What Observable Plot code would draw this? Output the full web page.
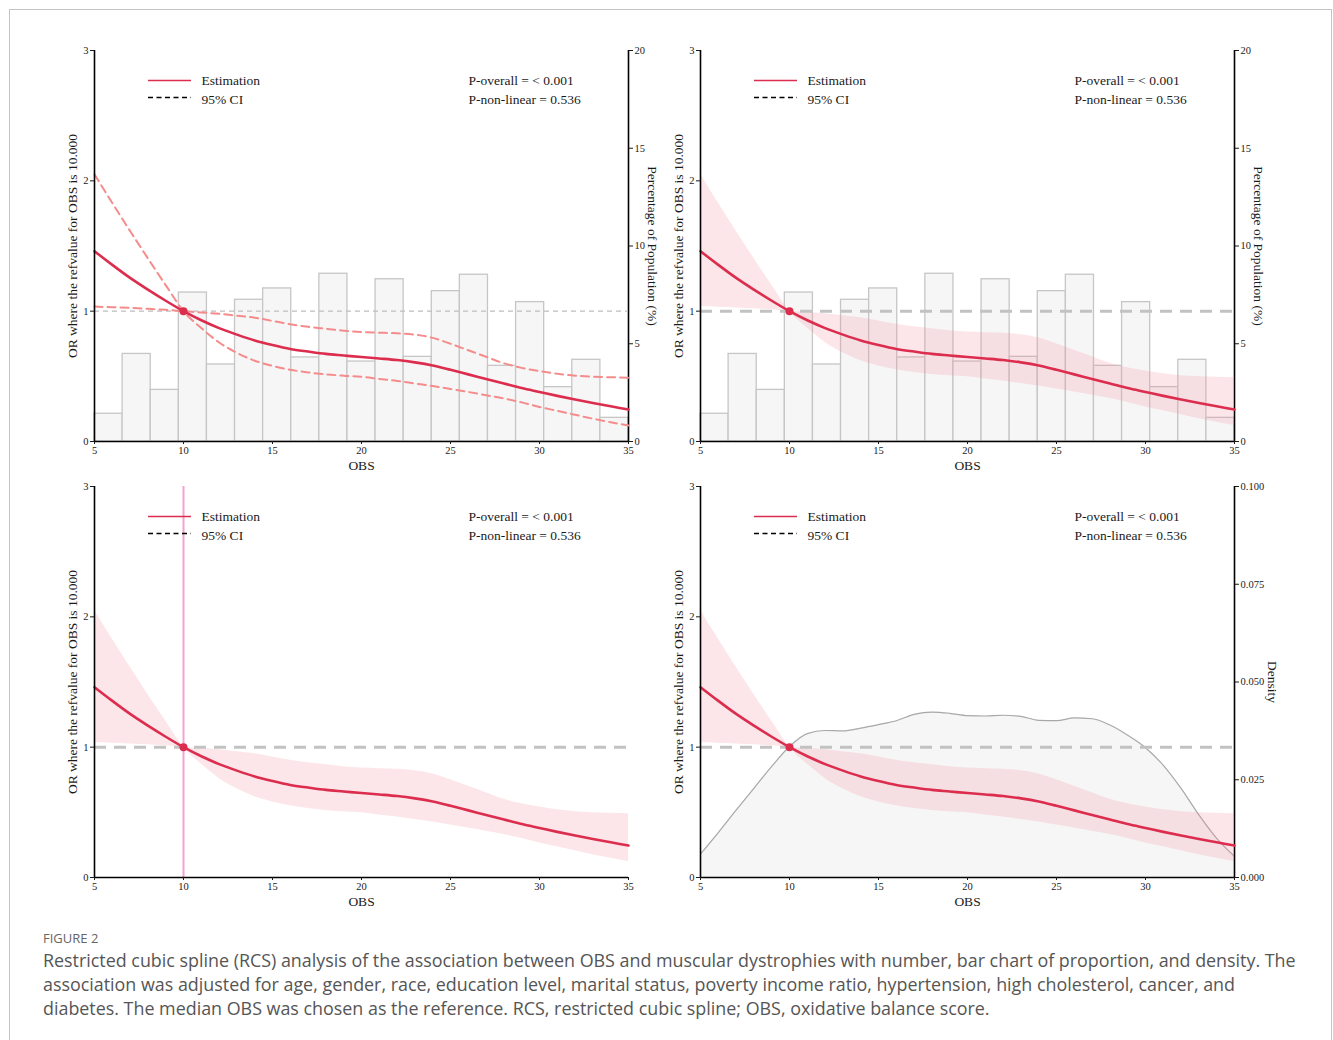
<!DOCTYPE html>
<html><head><meta charset="utf-8">
<script src="https://cdn.jsdelivr.net/npm/d3@7"></script>
<script src="https://cdn.jsdelivr.net/npm/@observablehq/plot@0.6"></script>
<style>
body{margin:0;background:#fff;width:1333px;height:1040px;overflow:hidden;position:relative;}
#frame{position:absolute;left:9px;top:9px;width:1323px;height:1100px;border:1px solid #c4c4c4;box-sizing:border-box;}
.layer{position:absolute;}
#fig{position:absolute;left:43px;top:929px;font-family:"Open Sans";font-size:13px;color:#666;line-height:18px;}
#cap{position:absolute;left:43px;top:948px;font-family:"Open Sans";font-size:17px;color:#555;line-height:24px;}
#cap span{display:block;white-space:nowrap;width:max-content;}
</style></head><body>
<div id="frame"></div>
<div id="charts"></div>
<div id="fig">FIGURE 2</div>
<div id="cap"><span>Restricted cubic spline (RCS) analysis of the association between OBS and muscular dystrophies with number, bar chart of proportion, and density. The</span><span>association was adjusted for age, gender, race, education level, marital status, poverty income ratio, hypertension, high cholesterol, cancer, and</span><span>diabetes. The median OBS was chosen as the reference. RCS, restricted cubic spline; OBS, oxidative balance score.</span></div>
<script>
// ---------- data ----------
const obs = [5,6,7,8,9,10,11,12,13,14,15,16,17,18,19,20,21,22,23,24,25,26,27,28,29,30,31,32,33,34,35];
const estimate = [1.46,1.355,1.255,1.165,1.08,1.00,0.93,0.87,0.82,0.775,0.74,0.71,0.69,0.672,0.66,0.648,0.637,0.625,0.607,0.583,0.55,0.515,0.48,0.445,0.41,0.38,0.35,0.322,0.295,0.27,0.245];
const ciSteep = [2.05,1.83,1.615,1.405,1.20,1.00,0.87,0.76,0.68,0.62,0.58,0.55,0.53,0.515,0.505,0.497,0.48,0.465,0.445,0.425,0.403,0.38,0.355,0.33,0.30,0.265,0.235,0.205,0.175,0.148,0.122];
const ciFlat = [1.035,1.03,1.025,1.018,1.01,1.00,0.99,0.98,0.965,0.95,0.925,0.90,0.88,0.865,0.85,0.84,0.835,0.83,0.82,0.795,0.75,0.70,0.65,0.60,0.565,0.54,0.52,0.505,0.497,0.493,0.49];
const density = [0.006,0.0115,0.0172,0.0228,0.0284,0.0335,0.0368,0.0376,0.0375,0.0382,0.0391,0.0401,0.0417,0.0423,0.042,0.0414,0.0413,0.0415,0.0412,0.0402,0.0401,0.0408,0.0406,0.039,0.0364,0.0332,0.0287,0.0228,0.016,0.010,0.0054];
const histPct = [1.42,4.48,2.64,7.62,3.94,7.25,7.83,4.30,8.58,4.09,8.30,4.33,7.69,8.53,3.87,7.13,2.78,4.18,1.21];
const histStart = 5, histEnd = 35;
const refX = 10, refOR = 1;
const orTicks = [0,1,2,3];
const obsTicks = [5,10,15,20,25,30,35];
const pctTicks = [0,5,10,15,20];
const densTicks = [0,0.025,0.05,0.075,0.1];
const legendLabels = ["Estimation","95% CI"];
const pLabels = ["P-overall = < 0.001","P-non-linear = 0.536"];
const leftTitle = "OR where the refvalue for OBS is 10.000";
const xTitle = "OBS";
const pctTitle = "Percentage of Population (%)";
const densTitle = "Density";

// ---------- tables ----------
const curve = obs.map((x,i)=>({x, est:estimate[i], a:ciSteep[i], b:ciFlat[i], d:density[i]}));
const bw = (histEnd-histStart)/histPct.length;
const bars = histPct.map((p,i)=>({x1:histStart+i*bw, x2:histStart+(i+1)*bw, pct:p}));

const W=654,H=441,ML=60,MR=60,MT=10,MB=40;
const RED="#dc2d4e", FONT="Liberation Serif", INK="#1a1a1a";
const baseStyle = {background:"transparent", fontFamily:FONT, fontSize:"10.5px", color:INK, overflow:"visible"};
const charts = document.getElementById("charts");

function place(svg,left,top){
  const d=document.createElement("div"); d.className="layer"; d.style.left=left+"px"; d.style.top=top+"px";
  d.appendChild(svg); charts.appendChild(d);
}

function panel(left, top, kind){
  // secondary (bottom) layer
  const secMarks = [];
  let yDom, ticks, fmt, rt, rdx;
  if(kind==="density"){
    yDom=[0,0.1]; ticks=densTicks; fmt=d3.format(".3f"); rt=densTitle; rdx=38;
    secMarks.push(Plot.areaY(curve,{x:"x",y:"d",fill:"#f7f6f7",curve:"monotone-x"}));
    secMarks.push(Plot.line(curve,{x:"x",y:"d",stroke:"#a8a8a8",strokeWidth:1.2,curve:"monotone-x"}));
  } else if(kind!=="vline"){
    yDom=[0,20]; ticks=pctTicks; fmt=d3.format("d"); rt=pctTitle; rdx=24;
    secMarks.push(Plot.rect(bars,{x1:"x1",x2:"x2",y1:0,y2:"pct",fill:"#f7f6f7",stroke:"#c6c6c6",strokeWidth:1.3}));
  }
  if(yDom){
    secMarks.push(Plot.ruleX([histEnd],{stroke:"black",strokeWidth:1.6}));
    secMarks.push(Plot.axisY({anchor:"right",ticks,tickFormat:fmt,tickSize:4,tickPadding:2,label:null}));
    secMarks.push(Plot.text([rt],{text:d=>d,frameAnchor:"right",dx:rdx,rotate:90,textAnchor:"middle",lineAnchor:"middle",fontSize:13.5,fill:INK}));
    const sec = Plot.plot({width:W,height:H,marginLeft:ML,marginRight:MR,marginTop:MT,marginBottom:MB,
      style:baseStyle, x:{domain:[5,35],axis:null}, y:{domain:yDom,axis:null}, marks:secMarks});
    place(sec,left,top);
  }
  // primary (top) layer
  const m = [];
  if(kind!=="dashed") m.push(Plot.areaY(curve,{x:"x",y1:"a",y2:"b",fill:"#f28b9a",fillOpacity:0.22,curve:"monotone-x"}));
  if(kind==="dashed") m.push(Plot.ruleY([refOR],{stroke:"#bdbdbd",strokeWidth:1.3,strokeDasharray:"5,4"}));
  else m.push(Plot.ruleY([refOR],{stroke:"#c2c2c2",strokeWidth:3,strokeDasharray:"12,8"}));
  if(kind==="vline") m.push(Plot.ruleX([refX],{stroke:"#f2a3d3",strokeWidth:2}));
  if(kind==="dashed"){
    m.push(Plot.line(curve,{x:"x",y:"a",stroke:"#f58c8c",strokeWidth:2,strokeDasharray:"8,5",curve:"monotone-x"}));
    m.push(Plot.line(curve,{x:"x",y:"b",stroke:"#f58c8c",strokeWidth:2,strokeDasharray:"8,5",curve:"monotone-x"}));
  }
  m.push(Plot.line(curve,{x:"x",y:"est",stroke:RED,strokeWidth:2.6,curve:"monotone-x"}));
  m.push(Plot.dot([{x:refX,y:refOR}],{x:"x",y:"y",r:4,fill:RED,stroke:null}));
  m.push(Plot.ruleX([5],{stroke:"black",strokeWidth:1.6}));
  m.push(Plot.ruleY([0],{stroke:"black",strokeWidth:1.6}));
  m.push(Plot.axisY({ticks:orTicks,tickFormat:d3.format("d"),tickSize:4,tickPadding:2,label:null}));
  m.push(Plot.axisX({ticks:obsTicks,tickFormat:d3.format("d"),tickSize:3,tickPadding:2,label:null}));
  m.push(Plot.text([leftTitle],{text:d=>d,frameAnchor:"left",dx:-22,rotate:-90,textAnchor:"middle",lineAnchor:"middle",fontSize:13.5,fill:INK}));
  m.push(Plot.text([xTitle],{text:d=>d,frameAnchor:"bottom",dy:24,textAnchor:"middle",lineAnchor:"middle",fontSize:13.5,fill:INK}));
  legendLabels.forEach((t,i)=>m.push(Plot.text([t],{text:d=>d,frameAnchor:"top-left",dx:107,dy:30+i*19,textAnchor:"start",lineAnchor:"middle",fontSize:13.5,fill:INK})));
  pLabels.forEach((t,i)=>m.push(Plot.text([t],{text:d=>d,frameAnchor:"top-left",dx:374,dy:30+i*19,textAnchor:"start",lineAnchor:"middle",fontSize:13.5,fill:INK})));
  const top_ = Plot.plot({width:W,height:H,marginLeft:ML,marginRight:MR,marginTop:MT,marginBottom:MB,
    style:baseStyle, x:{domain:[5,35]}, y:{domain:[0,3]}, marks:m});
  const s = d3.select(top_);
  s.append("line").attr("x1",ML+54).attr("x2",ML+97).attr("y1",MT+30.5).attr("y2",MT+30.5).attr("stroke",RED).attr("stroke-width",1.5);
  s.append("line").attr("x1",ML+54).attr("x2",ML+97).attr("y1",MT+47.5).attr("y2",MT+47.5).attr("stroke","black").attr("stroke-width",1.5).attr("stroke-dasharray","5,3.5");
  place(top_,left,top);
}

panel(34,40,"dashed");
panel(640,40,"band");
panel(34,475.5,"vline");
panel(640,475.5,"density");

// fit caption width
const cap=document.getElementById("cap");
const w1=cap.querySelector("span").getBoundingClientRect().width;
cap.style.fontSize=(17*1253/w1)+"px";
</script>
</body></html>
